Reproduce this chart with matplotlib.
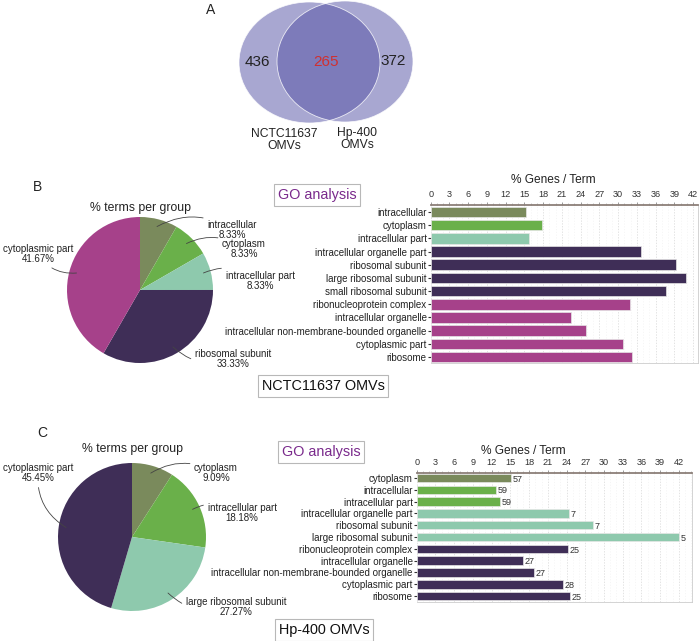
import matplotlib
matplotlib.use("Agg")
import matplotlib.pyplot as plt
from matplotlib.patches import Ellipse
from matplotlib.ticker import MultipleLocator
import numpy as np

plt.rcParams['font.family'] = ['Liberation Sans', 'DejaVu Sans']

# ---------------- data ----------------
venn_left_only = 436
venn_shared = 265
venn_right_only = 372
venn_names = ["NCTC11637\nOMVs", "Hp-400\nOMVs"]

pieB_labels = ["intracellular", "cytoplasm", "intracellular part", "ribosomal subunit", "cytoplasmic part"]
pieB_values = [8.33, 8.33, 8.33, 33.33, 41.67]
pieC_labels = ["cytoplasm", "intracellular part", "large ribosomal subunit", "cytoplasmic part"]
pieC_values = [9.09, 18.18, 27.27, 45.45]

barB_terms = ["intracellular", "cytoplasm", "intracellular part", "intracellular organelle part",
              "ribosomal subunit", "large ribosomal subunit", "small ribosomal subunit",
              "ribonucleoprotein complex", "intracellular organelle",
              "intracellular non-membrane-bounded organelle", "cytoplasmic part", "ribosome"]
barB_values = [15.3, 17.8, 15.8, 33.6, 39.2, 40.9, 37.7, 31.9, 22.4, 24.8, 30.8, 32.2]
barB_group = [0, 1, 2, 3, 3, 3, 3, 4, 4, 4, 4, 4]

barC_terms = ["cytoplasm", "intracellular", "intracellular part", "intracellular organelle part",
              "ribosomal subunit", "large ribosomal subunit", "ribonucleoprotein complex",
              "intracellular organelle", "intracellular non-membrane-bounded organelle",
              "cytoplasmic part", "ribosome"]
barC_values = [15.05, 12.7, 13.3, 24.4, 28.2, 42.0, 24.2, 17.1, 18.8, 23.4, 24.5]
barC_counts = [57, 59, 59, 7, 7, 5, 25, 27, 27, 28, 25]
barC_group = [0, 1, 1, 2, 2, 2, 3, 3, 3, 3, 3]

xticks = list(range(0, 43, 3))

OLIVE = "#7a8a5c"
GREEN = "#6ab04a"
MINT = "#8ec9ad"
PURPLE = "#3f2e57"
MAGENTA = "#a6418a"
pieB_colors = [OLIVE, GREEN, MINT, PURPLE, MAGENTA]
pieC_colors = [OLIVE, GREEN, MINT, PURPLE]
barB_palette = [OLIVE, GREEN, MINT, PURPLE, MAGENTA]
barC_palette = [OLIVE, GREEN, MINT, PURPLE]

# ---------------- layout helpers ----------------
W, H = 700, 641
fig = plt.figure(figsize=(W / 100, H / 100), dpi=100)


def ax_px(l, t, r, b):
    return fig.add_axes([l / W, 1 - b / H, (r - l) / W, (b - t) / H])


def fxy(x, y):
    return (x / W, 1 - y / H)


# background pixel axes for venn and free text
bg = fig.add_axes([0, 0, 1, 1], zorder=0)
bg.set_xlim(0, W)
bg.set_ylim(H, 0)
bg.axis("off")

# ---------------- Venn ----------------
vcol = "#5351a5"
bg.add_patch(Ellipse((309.5, 62.5), 141, 121, facecolor=vcol, alpha=0.5, edgecolor="none"))
bg.add_patch(Ellipse((345, 61.5), 136, 121, facecolor=vcol, alpha=0.5, edgecolor="none"))
bg.add_patch(Ellipse((309.5, 62.5), 141, 121, facecolor="none", edgecolor="white", lw=0.6, alpha=0.8))
bg.add_patch(Ellipse((345, 61.5), 136, 121, facecolor="none", edgecolor="white", lw=0.6, alpha=0.8))
bg.text(211, 10, "A", fontsize=10, ha="center", va="center", color="#222")
bg.text(257, 62, str(venn_left_only), fontsize=11, ha="center", va="center", color="#222")
bg.text(326, 62, str(venn_shared), fontsize=11, ha="center", va="center", color="#d03030")
bg.text(393, 61, str(venn_right_only), fontsize=11, ha="center", va="center", color="#222")
bg.text(284, 140, venn_names[0], fontsize=8.7, ha="center", va="center", color="#222", linespacing=1.05)
bg.text(357, 139, venn_names[1], fontsize=8.7, ha="center", va="center", color="#222", linespacing=1.05)

# panel letters
bg.text(37, 187, "B", fontsize=10, ha="center", va="center", color="#222")
bg.text(42, 433, "C", fontsize=10, ha="center", va="center", color="#222")

# boxed labels
box_kw = dict(boxstyle="square,pad=0.25", facecolor="white", edgecolor="#b8b8b8", lw=0.8)
bg.text(317, 195, "GO analysis", fontsize=10.4, ha="center", va="center", color="#7a2a8c", bbox=box_kw)
bg.text(321, 452, "GO analysis", fontsize=10.4, ha="center", va="center", color="#7a2a8c", bbox=box_kw)
bg.text(323, 386, "NCTC11637 OMVs", fontsize=10.4, ha="center", va="center", color="#111", bbox=box_kw)
bg.text(324, 630, "Hp-400 OMVs", fontsize=10.4, ha="center", va="center", color="#111", bbox=box_kw)

# pie titles and bar titles
bg.text(140, 208, "% terms per group", fontsize=8.8, ha="center", va="center", color="#222")
bg.text(133, 449, "% terms per group", fontsize=8.8, ha="center", va="center", color="#222")
bg.text(553, 180, "% Genes / Term", fontsize=8.6, ha="center", va="center", color="#222")
bg.text(523, 451, "% Genes / Term", fontsize=8.6, ha="center", va="center", color="#222")


# ---------------- pies ----------------
def draw_pie(cx, cy, r, values, colors, labels, label_pos, rads):
    ax = ax_px(cx - r, cy - r, cx + r, cy + r)
    wedges, _ = ax.pie(values, colors=colors, startangle=90, counterclock=False,
                       radius=1, wedgeprops=dict(linewidth=0))
    ax.set_xlim(-1, 1)
    ax.set_ylim(-1, 1)
    for w, lab, val, (tx, ty), rad in zip(wedges, labels, values, label_pos, rads):
        ang = np.deg2rad((w.theta1 + w.theta2) / 2)
        px, py = 0.9 * np.cos(ang), 0.9 * np.sin(ang)
        ax.annotate(f"{lab}\n{val:.2f}%", xy=(px, py), xycoords="data",
                    xytext=fxy(tx, ty), textcoords="figure fraction",
                    ha="center", va="center", fontsize=7, color="#222", linespacing=1.1,
                    annotation_clip=False,
                    arrowprops=dict(arrowstyle="-", color="#444", lw=0.6,
                                    connectionstyle=f"arc3,rad={rad}", shrinkA=1, shrinkB=0))
    return ax


draw_pie(140, 290, 73, pieB_values, pieB_colors, pieB_labels,
         [(232, 230), (244, 249), (260, 281), (233, 359), (38, 254)],
         [0.3, 0.3, 0.3, -0.3, 0.3])
draw_pie(132, 537, 74, pieC_values, pieC_colors, pieC_labels,
         [(216, 473), (242, 513), (236, 607), (38, 473)],
         [0.3, 0.3, -0.3, 0.3])


# ---------------- bars ----------------
def draw_bars(l, t, r, b, terms, values, groups, palette, xmax, ylo, yhi, height, counts=None):
    ax = ax_px(l, t, r, b)
    y = np.arange(len(terms))
    cols = [palette[g] for g in groups]
    ax.barh(y, values, height=height, color=cols, edgecolor="#e6e6e6", linewidth=0.5, zorder=3)
    ax.set_xlim(0, xmax)
    ax.set_ylim(yhi, ylo)
    ax.set_yticks(y)
    ax.set_yticklabels(terms, fontsize=7, color="#222")
    ax.xaxis.tick_top()
    ax.set_xticks(xticks)
    ax.set_xticklabels([str(v) for v in xticks], fontsize=6.6, color="#333")
    ax.xaxis.set_minor_locator(MultipleLocator(1))
    ax.tick_params(axis="x", which="major", length=2.5, width=0.6, color="#888", pad=1.5)
    ax.tick_params(axis="x", which="minor", length=1.5, width=0.5, color="#aaa")
    ax.tick_params(axis="y", length=2, width=0.8, color="#333", pad=1)
    ax.grid(axis="x", which="major", linestyle=(0, (2, 2)), color="#d8d8d8", lw=0.5, zorder=0)
    ax.grid(axis="x", which="minor", linestyle=(0, (2, 3)), color="#eeeeee", lw=0.4, zorder=0)
    ax.spines["left"].set_visible(False)
    ax.spines["top"].set_color("#8c7f78")
    ax.spines["top"].set_linewidth(1.3)
    ax.spines["right"].set_color("#cccccc")
    ax.spines["right"].set_linewidth(0.6)
    ax.spines["bottom"].set_color("#cccccc")
    ax.spines["bottom"].set_linewidth(0.6)
    if counts is not None:
        for yi, v, c in zip(y, values, counts):
            ax.text(v + 0.25, yi + 0.1, str(c), fontsize=6.5, ha="left", va="center", color="#333")
    return ax


draw_bars(430.7, 205, 698, 363, barB_terms, barB_values, barB_group, barB_palette,
          42.8, -0.53, 11.45, 0.8)
draw_bars(416.7, 473, 692, 602, barC_terms, barC_values, barC_group, barC_palette,
          44.1, -0.42, 10.5, 0.72, counts=barC_counts)

fig.savefig("out.png", dpi=100)
